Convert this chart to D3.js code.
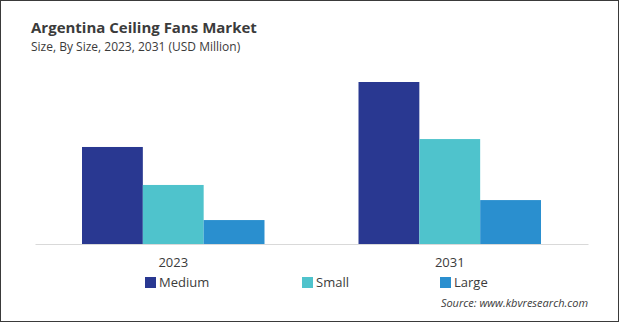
<!DOCTYPE html>
<html>
<head>
<meta charset="utf-8">
<script src="https://cdn.jsdelivr.net/npm/d3@7"></script>
<style>
  body { margin: 0; background: #fff; }
  text { font-family: "Open Sans", "Noto Sans", sans-serif; }
</style>
</head>
<body>
<div id="chart"></div>
<script>
// chart data (USD Million)
const years = ["2023", "2031"];
const sizes = ["Medium", "Small", "Large"];
const medium = [53.9, 90.0];
const small = [32.8, 58.3];
const large = [13.3, 24.4];
const colors = ["#293891", "#4fc3cc", "#2a8fcf"];

const width = 619;
const height = 322;
const marginLeft = 35;
const marginRight = 31;
const baseY = 244;

const rows = years.map((yr, i) => ({ year: yr, values: [medium[i], small[i], large[i]] }));

const svg = d3.select("#chart")
    .append("svg")
    .attr("width", width)
    .attr("height", height)
    .attr("viewBox", [0, 0, width, height]);

// frame
svg.append("rect")
    .attr("x", 0.5).attr("y", 0.5)
    .attr("width", width - 1).attr("height", height - 1)
    .attr("fill", "#fff")
    .attr("stroke", "#3a3a3a");

// titles
svg.append("text")
    .attr("x", 31).attr("y", 33)
    .attr("font-size", "15px")
    .attr("font-weight", "bold")
    .attr("fill", "#3b3b3b")
    .text("Argentina Ceiling Fans Market");

svg.append("text")
    .attr("x", 31).attr("y", 51)
    .attr("font-size", "12px")
    .attr("fill", "#3b3b3b")
    .text("Size, By Size, 2023, 2031 (USD Million)");

// scales
const x0 = d3.scaleBand()
    .domain(years)
    .range([marginLeft, width - marginRight])
    .paddingInner(0.34)
    .paddingOuter(0.17);

const x1 = d3.scaleBand()
    .domain(sizes)
    .range([0, x0.bandwidth()]);

const y = d3.scaleLinear()
    .domain([0, 100])
    .range([baseY, 64]);

// bars
svg.append("g")
    .selectAll("g")
    .data(rows)
    .join("g")
    .attr("transform", d => `translate(${x0(d.year)},0)`)
    .selectAll("rect")
    .data(d => d.values.map((v, i) => ({ key: sizes[i], value: v, color: colors[i] })))
    .join("rect")
    .attr("x", d => x1(d.key))
    .attr("y", d => y(d.value))
    .attr("width", x1.bandwidth())
    .attr("height", d => y(0) - y(d.value))
    .attr("fill", d => d.color);

// x axis
const xAxis = svg.append("g")
    .attr("transform", `translate(0,${baseY})`)
    .call(d3.axisBottom(x0).tickSize(0).tickPadding(14));
xAxis.select(".domain").attr("stroke", "#d9d9d9");
xAxis.selectAll("text")
    .attr("font-size", "13px")
    .attr("fill", "#3b3b3b")
    .style("font-family", "'Open Sans', sans-serif");

// legend
const legendX = [145, 302, 440];
const legend = svg.append("g")
    .selectAll("g")
    .data(sizes)
    .join("g")
    .attr("transform", (d, i) => `translate(${legendX[i]},277)`);
legend.append("rect")
    .attr("width", 11).attr("height", 11)
    .attr("fill", (d, i) => colors[i]);
legend.append("text")
    .attr("x", 14).attr("y", 10)
    .attr("font-size", "13px")
    .attr("fill", "#3b3b3b")
    .text(d => d);

// source
svg.append("text")
    .attr("x", 588).attr("y", 307)
    .attr("text-anchor", "end")
    .attr("font-size", "11px")
    .attr("font-style", "italic")
    .attr("fill", "#3b3b3b")
    .text("Source: www.kbvresearch.com");
</script>
</body>
</html>
